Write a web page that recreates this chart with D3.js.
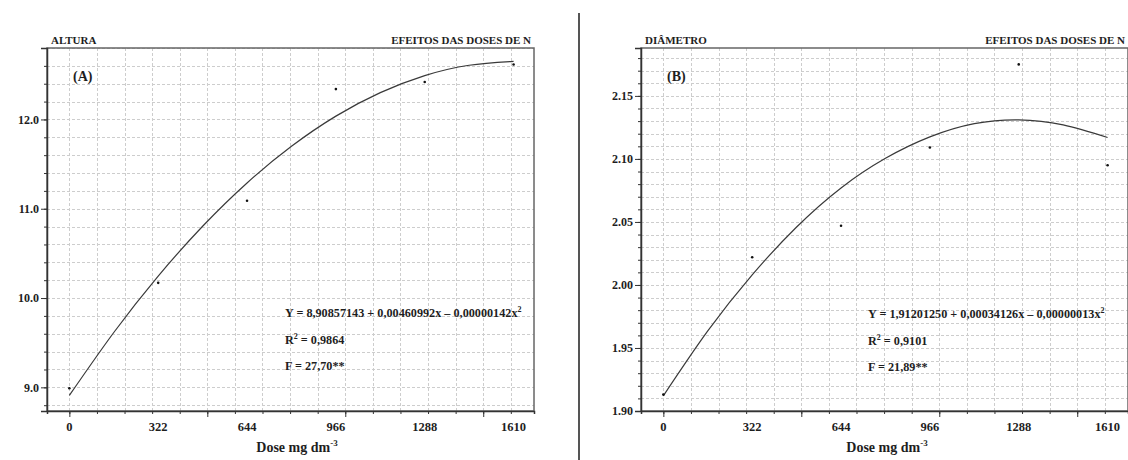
<!DOCTYPE html>
<html>
<head>
<meta charset="utf-8">
<script src="https://cdn.jsdelivr.net/npm/d3@7/dist/d3.min.js"></script>
<style>
  body { margin: 0; background: #fff; }
  svg { display: block; }
  text { font-family: "Liberation Serif", "Times New Roman", serif; font-weight: bold; fill: #1e1e1e; }
</style>
</head>
<body>
<script>
// doses of N (mg dm-3) and the observed means
var doses = [0, 322, 644, 966, 1288, 1610];
var alturaObs = [8.99, 10.17, 11.09, 12.34, 12.42, 12.615];
var diametroObs = [1.913, 2.022, 2.047, 2.109, 2.175, 2.095];

// fitted curve, every 161 units
var fitDoses = [0, 161, 322, 483, 644, 805, 966, 1127, 1288, 1449, 1610];
var alturaFit = [8.909, 9.614, 10.246, 10.804, 11.289, 11.699, 12.037, 12.300, 12.491, 12.607, 12.650];
var diametroFit = [1.912, 1.9635, 2.008, 2.046, 2.077, 2.1005, 2.1175, 2.128, 2.131, 2.127, 2.117];

var alturaTicks = [9.0, 10.0, 11.0, 12.0];
var diametroTicks = [1.90, 1.95, 2.00, 2.05, 2.10, 2.15];

var width = 1128,
    height = 460;

var svg = d3.select("body").append("svg")
    .attr("width", width)
    .attr("height", height);

// divider between the two figures
svg.append("line")
    .attr("x1", 579).attr("x2", 579)
    .attr("y1", 13).attr("y2", height)
    .attr("stroke", "#555")
    .attr("stroke-width", 2);

drawPanel({
  left: 47, right: 534, top: 48, bottom: 411,
  yDomain: [8.735, 12.8], yStep: 0.2, yTicks: alturaTicks, yFormat: d3.format(".1f"),
  obs: alturaObs, fit: alturaFit,
  title: "ALTURA", tag: "(A)",
  eq: ["Y = 8,90857143 + 0,00460992x \u2013 0,00000142x", "2"],
  r2: "0,9864", f: "F = 27,70**",
  eqX: 285, eqY: 317, xTitle: 297
});

drawPanel({
  left: 641, right: 1128, top: 48, bottom: 411,
  yDomain: [1.90, 2.188], yStep: 0.01, yTicks: diametroTicks, yFormat: d3.format(".2f"),
  obs: diametroObs, fit: diametroFit,
  title: "DIÂMETRO", tag: "(B)",
  eq: ["Y = 1,91201250 + 0,00034126x \u2013 0,00000013x", "2"],
  r2: "0,9101", f: "F = 21,89**",
  eqX: 868, eqY: 318, xTitle: 887
});

function drawPanel(c) {
  var x = d3.scaleLinear().domain([-81, 1684]).range([c.left, c.right]);
  var y = d3.scaleLinear().domain(c.yDomain).range([c.bottom, c.top]);

  var g = svg.append("g");

  // y steps as a grid (integer steps so the floats stay clean)
  var n0 = Math.ceil(c.yDomain[0] / c.yStep - 1e-6),
      n1 = Math.floor(c.yDomain[1] / c.yStep + 1e-6);
  var yGrid = d3.range(n0, n1 + 1).map(function(i) { return +(i * c.yStep).toFixed(4); });
  var xGrid = d3.range(0, 1700, 100);

  g.append("g").selectAll("line")
      .data(yGrid)
    .join("line")
      .attr("x1", c.left).attr("x2", c.right)
      .attr("y1", function(d) { return Math.round(y(d)) + 0.5; })
      .attr("y2", function(d) { return Math.round(y(d)) + 0.5; })
      .attr("stroke", "#cdcdcd")
      .attr("stroke-dasharray", "3,2");

  g.append("g").selectAll("line")
      .data(xGrid)
    .join("line")
      .attr("x1", function(d) { return Math.round(x(d)) + 0.5; })
      .attr("x2", function(d) { return Math.round(x(d)) + 0.5; })
      .attr("y1", c.top).attr("y2", c.bottom)
      .attr("stroke", "#cdcdcd")
      .attr("stroke-dasharray", "3,2");

  // frame
  g.append("rect")
      .attr("x", c.left).attr("y", c.top)
      .attr("width", c.right - c.left).attr("height", c.bottom - c.top)
      .attr("fill", "none")
      .attr("stroke", "#666")
      .attr("stroke-width", 1.5);

  // y axis: minor ticks on the grid, longer ticks at the labels
  g.append("g")
      .attr("transform", "translate(" + c.left + ",0)")
      .call(d3.axisLeft(y).tickValues(yGrid).tickSize(3).tickFormat(""))
      .call(function(a) { a.select(".domain").remove(); });
  g.append("g")
      .attr("transform", "translate(" + c.left + ",0)")
      .call(d3.axisLeft(y).tickValues(c.yTicks).tickSize(6).tickPadding(2).tickFormat(c.yFormat))
      .call(function(a) {
        a.select(".domain").attr("stroke", "#333").attr("stroke-width", 1.5);
        a.selectAll("text").attr("font-size", 12).attr("font-family", null);
      });

  // x axis: ticks every 100, longer every 500
  g.append("g")
      .attr("transform", "translate(0," + c.bottom + ")")
      .call(d3.axisBottom(x).tickValues(xGrid).tickSize(3).tickFormat(""))
      .call(function(a) { a.select(".domain").attr("stroke", "#333").attr("stroke-width", 1.5); });
  g.append("g")
      .attr("transform", "translate(0," + c.bottom + ")")
      .call(d3.axisBottom(x).tickValues([0, 500, 1000, 1500]).tickSize(6).tickFormat(""))
      .call(function(a) { a.select(".domain").remove(); });

  // dose labels sit on the treatment positions, not on the ticks
  g.append("g").selectAll("text")
      .data(doses)
    .join("text")
      .attr("x", function(d) { return x(d); })
      .attr("y", c.bottom + 20)
      .attr("text-anchor", "middle")
      .attr("font-size", 12.5)
      .text(function(d) { return d; });

  g.selectAll("g.tick line").attr("stroke", "#333");
  g.selectAll("g.tick text").attr("fill", "#1e1e1e");

  // fitted curve
  var line = d3.line()
      .x(function(d, i) { return x(fitDoses[i]); })
      .y(function(d) { return y(d); })
      .curve(d3.curveNatural);

  g.append("path")
      .datum(c.fit)
      .attr("d", line)
      .attr("fill", "none")
      .attr("stroke", "#3a3a3a")
      .attr("stroke-width", 1.2);

  // observed means
  g.append("g").selectAll("circle")
      .data(c.obs)
    .join("circle")
      .attr("cx", function(d, i) { return x(doses[i]); })
      .attr("cy", function(d) { return y(d); })
      .attr("r", 1.3)
      .attr("fill", "#111");

  // titles
  g.append("text")
      .attr("x", c.left + 4).attr("y", c.top - 4)
      .attr("font-size", 11)
      .text(c.title);
  g.append("text")
      .attr("x", c.right - 3).attr("y", c.top - 4)
      .attr("text-anchor", "end")
      .attr("font-size", 11)
      .text("EFEITOS DAS DOSES DE N");
  g.append("text")
      .attr("x", c.left + 26).attr("y", c.top + 33)
      .attr("font-size", 14)
      .text(c.tag);

  // regression text
  var eq = g.append("text")
      .attr("x", c.eqX).attr("y", c.eqY)
      .attr("font-size", 12.2);
  eq.append("tspan").text(c.eq[0]);
  eq.append("tspan").attr("dy", -5).attr("font-size", 8).text(c.eq[1]);

  var r2 = g.append("text")
      .attr("x", c.eqX).attr("y", c.eqY + 27)
      .attr("font-size", 12.2);
  r2.append("tspan").text("R");
  r2.append("tspan").attr("dy", -5).attr("font-size", 8).text("2");
  r2.append("tspan").attr("dy", 5).text(" = " + c.r2);

  g.append("text")
      .attr("x", c.eqX).attr("y", c.eqY + 53)
      .attr("font-size", 12.2)
      .text(c.f);

  // x axis title
  var xt = g.append("text")
      .attr("x", c.xTitle).attr("y", 452)
      .attr("text-anchor", "middle")
      .attr("font-size", 14);
  xt.append("tspan").text("Dose mg dm");
  xt.append("tspan").attr("dy", -6).attr("font-size", 9).text("-3");
}
</script>
</body>
</html>
